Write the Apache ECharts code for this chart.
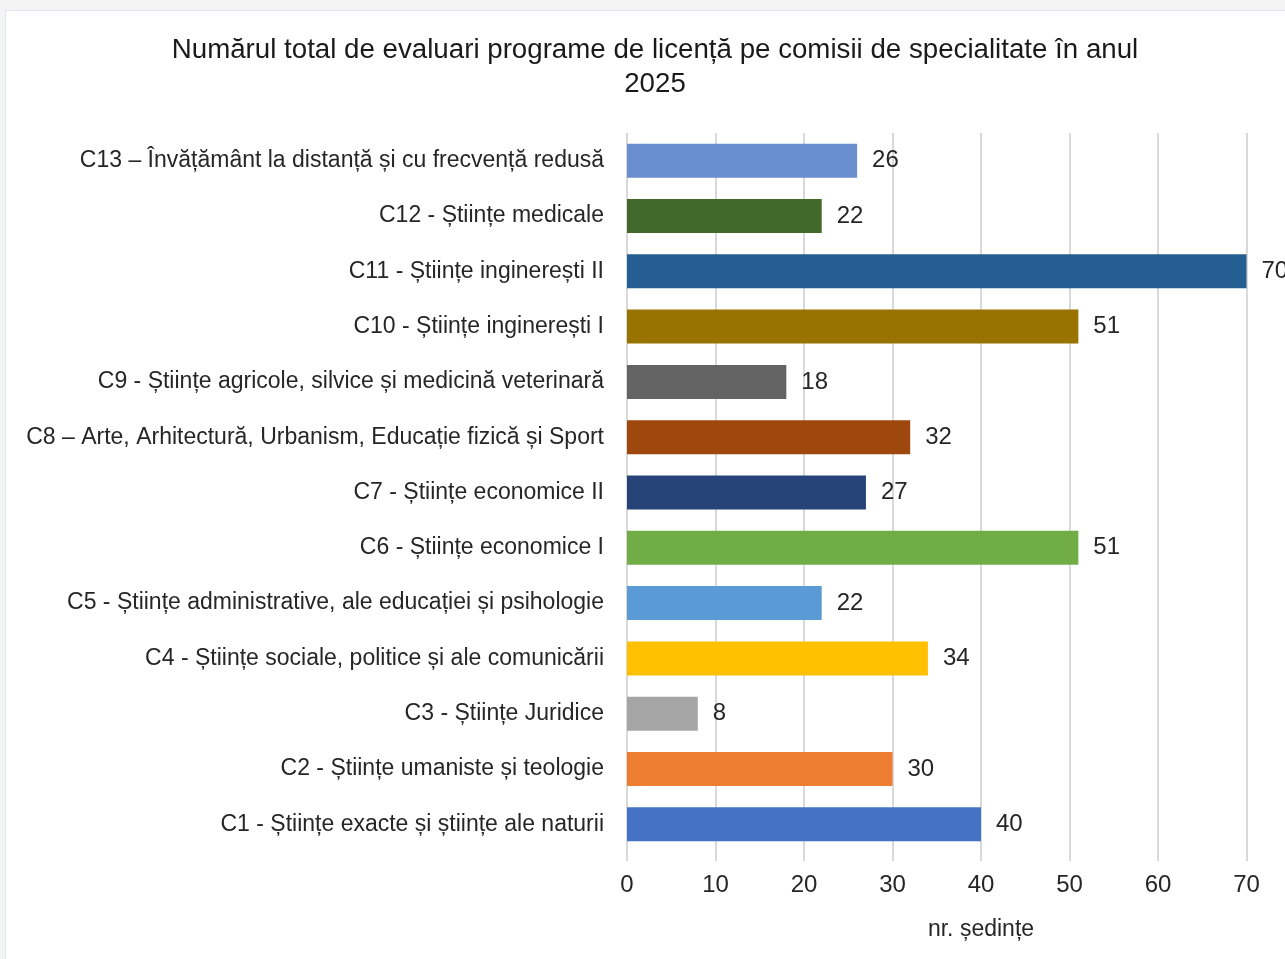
<!DOCTYPE html>
<html>
<head>
<meta charset="utf-8">
<script src="https://cdn.jsdelivr.net/npm/echarts@6/dist/echarts.min.js"></script>
<style>
  html, body { margin: 0; padding: 0; background: #f4f4f4; overflow: hidden; width: 1285px; height: 959px; }
  #panel { position: absolute; left: 5px; top: 10px; width: 1400px; height: 960px; background: #fff; border-left: 1px solid #dce7f4; border-top: 1px solid #dce7f4; }
  #chart { position: absolute; left: 0; top: 0; width: 1400px; height: 948px; }
</style>
</head>
<body>
<div id="panel"><div id="chart"></div></div>
<script>
const categories = [
  'C1 - Științe exacte și științe ale naturii',
  'C2 - Științe umaniste și teologie',
  'C3 - Științe Juridice',
  'C4 - Științe sociale, politice și ale comunicării',
  'C5 - Științe administrative, ale educației și psihologie',
  'C6 - Științe economice I',
  'C7 - Științe economice II',
  'C8 – Arte, Arhitectură, Urbanism, Educație fizică și Sport',
  'C9 - Științe agricole, silvice și medicină veterinară',
  'C10 - Științe inginerești I',
  'C11 - Științe inginerești II',
  'C12 - Științe medicale',
  'C13 – Învățământ la distanță și cu frecvență redusă'
]
const values = [40, 30, 8, 34, 22, 51, 27, 32, 18, 51, 70, 22, 26]
const colors = [
  '#4472c4', '#ed7d31', '#a5a5a5', '#ffc000', '#5b9bd5', '#70ad47', '#264478',
  '#9e480e', '#636363', '#997300', '#255e91', '#43682b', '#698ed0'
]
const xTicks = [0, 10, 20, 30, 40, 50, 60, 70, 80]

const font = '"Liberation Sans", Arial, sans-serif'
const chart = echarts.init(document.getElementById('chart'))
chart.setOption({
  animation: false,
  textStyle: { fontFamily: font },
  title: {
    text: 'Numărul total de evaluari programe de licență pe comisii de specialitate în anul\n2025',
    left: 644,
    top: 17,
    textAlign: 'center',
    textStyle: { fontFamily: font, fontSize: 27.7, fontWeight: 'normal', color: '#1a1a1a', lineHeight: 34 }
  },
  grid: { left: 621, top: 122, height: 719, right: 71, outerBoundsMode: 'none', containLabel: false },
  xAxis: {
    type: 'value',
    min: xTicks[0],
    max: xTicks[xTicks.length - 1],
    interval: 10,
    name: 'nr. ședințe',
    nameLocation: 'middle',
    nameGap: 66,
    nameTextStyle: { fontFamily: font, fontSize: 23, color: '#262626' },
    axisLine: { show: false },
    axisTick: { show: true, length: 9, lineStyle: { color: '#d9d9d9', width: 2 } },
    axisLabel: { fontFamily: font, fontSize: 24, color: '#262626', margin: 21 },
    splitLine: { show: true, lineStyle: { color: '#d9d9d9', width: 2 } }
  },
  yAxis: {
    type: 'category',
    data: categories,
    axisLine: { show: false },
    axisTick: { show: false },
    axisLabel: { fontFamily: font, fontSize: 23, color: '#262626', margin: 23 }
  },
  series: [{
    type: 'bar',
    barWidth: 34,
    data: values.map((v, i) => ({ value: v, itemStyle: { color: colors[i] } })),
    label: {
      show: true,
      position: 'right',
      distance: 15,
      fontFamily: font,
      fontSize: 24,
      color: '#262626'
    }
  }]
})
</script>
</body>
</html>
